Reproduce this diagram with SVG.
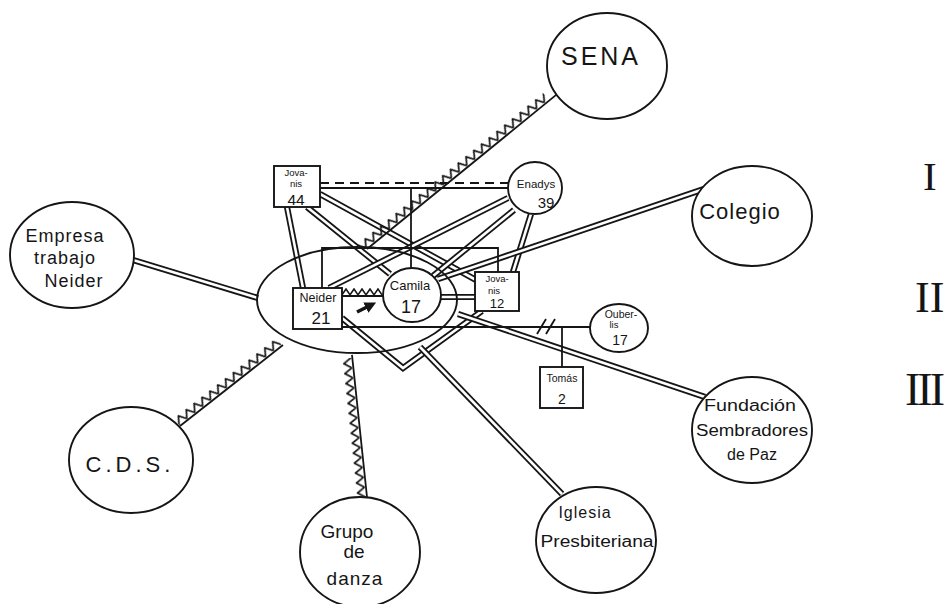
<svg xmlns="http://www.w3.org/2000/svg" width="946" height="604" viewBox="0 0 946 604">
<style>
.ln{stroke:#151515;stroke-width:1.8;fill:none}
.o{stroke:#151515;stroke-width:6.2;fill:none}
.i{stroke:#fff;stroke-width:2.6;fill:none}
.dash{stroke:#151515;stroke-width:1.8;fill:none;stroke-dasharray:9 6}
.nd{fill:#fff;stroke:#151515;stroke-width:1.9}
.t{font-family:"Liberation Sans",Arial,sans-serif;fill:#151515;text-anchor:middle}
.rn{font-family:"Liberation Serif","Times New Roman",serif;fill:#151515}
</style>
<defs>
<pattern id="zig" patternUnits="userSpaceOnUse" width="10" height="10">
<path d="M0,8.6 L5,1 L10,8.6" stroke="#151515" stroke-width="1.7" fill="none"/>
</pattern>
<pattern id="zig2" patternUnits="userSpaceOnUse" width="8" height="8">
<path d="M0,6.8 L4,1 L8,6.8" stroke="#151515" stroke-width="1.6" fill="none"/>
</pattern>
<marker id="arr" viewBox="0 0 10 10" refX="5" refY="5" markerWidth="3.2" markerHeight="3.2" orient="auto">
<path d="M0,0 L10,5 L0,10 z" fill="#151515"/>
</marker>
</defs>
<rect width="946" height="604" fill="#fff"/>

<g id="connectors">
<!-- strong (double) lines -->
<line class="o" x1="133" y1="260" x2="258" y2="298"/><line class="i" x1="133" y1="260" x2="258" y2="298"/>
<line class="o" x1="287" y1="207" x2="303" y2="288"/><line class="i" x1="287" y1="207" x2="303" y2="288"/>
<line class="o" x1="307" y1="207" x2="390" y2="274"/><line class="i" x1="307" y1="207" x2="390" y2="274"/>
<line class="o" x1="320" y1="194" x2="476" y2="280"/><line class="i" x1="320" y1="194" x2="476" y2="280"/>
<line class="o" x1="508" y1="198" x2="329" y2="288"/><line class="i" x1="508" y1="198" x2="329" y2="288"/>
<line class="o" x1="514" y1="210" x2="433" y2="276"/><line class="i" x1="514" y1="210" x2="433" y2="276"/>
<line class="o" x1="531" y1="214" x2="513" y2="272"/><line class="i" x1="531" y1="214" x2="513" y2="272"/>
<line class="o" x1="704" y1="189" x2="438" y2="279"/><line class="i" x1="704" y1="189" x2="438" y2="279"/>
<line class="o" x1="441" y1="297" x2="476" y2="297"/><line class="i" x1="441" y1="297" x2="476" y2="297"/>
<path class="o" d="M342,318 L403,368 L482,311"/><path class="i" d="M342,318 L403,368 L482,311"/>
<line class="o" x1="420" y1="347" x2="562" y2="494"/><line class="i" x1="420" y1="347" x2="562" y2="494"/>
<line class="o" x1="458" y1="314" x2="705" y2="397"/><line class="i" x1="458" y1="314" x2="705" y2="397"/>

<!-- family lines -->
<line class="dash" x1="320" y1="183" x2="508" y2="183"/>
<line class="ln" x1="320" y1="188" x2="508" y2="188"/>
<line class="ln" x1="411" y1="188" x2="411" y2="270"/>
<path class="ln" d="M322,288 L322,248 L498,248 L498,272"/>
<line class="ln" x1="342" y1="327" x2="591" y2="327"/>
<line class="ln" x1="537" y1="334" x2="546" y2="319"/>
<line class="ln" x1="546" y1="334" x2="555" y2="319"/>
<line class="ln" x1="562" y1="327" x2="562" y2="367"/>

<!-- stressful lines -->
<g transform="translate(367,249) rotate(-39.17)">
<line class="ln" x1="0" y1="0" x2="244" y2="0"/>
<rect x="-5" y="-10" width="240" height="10" fill="url(#zig)"/>
</g>
<g transform="translate(180,426) rotate(-38.18)">
<line class="ln" x1="0" y1="0" x2="131" y2="0"/>
<rect x="0" y="-10" width="130" height="10" fill="url(#zig)"/>
</g>
<g transform="translate(367,497) rotate(-96.03)">
<line class="ln" x1="0" y1="0" x2="143" y2="0"/>
<rect x="0" y="-10" width="140" height="10" fill="url(#zig)"/>
</g>
<g transform="translate(342,296)">
<line class="ln" x1="0" y1="0" x2="42" y2="0"/>
<rect x="0" y="-8" width="40" height="8" fill="url(#zig2)"/>
</g>
<line x1="357" y1="312" x2="371" y2="305" stroke="#151515" stroke-width="3.6" marker-end="url(#arr)"/>
</g>

<g id="household">
<ellipse cx="357" cy="300" rx="100" ry="53" fill="none" stroke="#151515" stroke-width="1.9"/>
</g>

<g id="n-sena">
<ellipse class="nd" cx="607" cy="66" rx="60" ry="53"/>
<text class="t" x="601" y="65" font-size="25" letter-spacing="3">SENA</text>
</g>
<g id="n-colegio">
<ellipse class="nd" cx="752" cy="216" rx="60" ry="50"/>
<text class="t" x="740" y="219" font-size="22" letter-spacing="1">Colegio</text>
</g>
<g id="n-empresa">
<ellipse class="nd" cx="72" cy="255" rx="62" ry="53"/>
<text class="t" x="65" y="242" font-size="18" letter-spacing="1">Empresa</text>
<text class="t" x="65" y="264" font-size="18" letter-spacing="1">trabajo</text>
<text class="t" x="74" y="287" font-size="18" letter-spacing="1">Neider</text>
</g>
<g id="n-cds">
<ellipse class="nd" cx="131" cy="460" rx="62" ry="53"/>
<text class="t" x="130" y="472" font-size="22" letter-spacing="4">C.D.S.</text>
</g>
<g id="n-grupo">
<ellipse class="nd" cx="360" cy="552" rx="60" ry="55"/>
<text class="t" x="347" y="538" font-size="19">Grupo</text>
<text class="t" x="354" y="558" font-size="19">de</text>
<text class="t" x="355" y="585" font-size="19" letter-spacing="1">danza</text>
</g>
<g id="n-iglesia">
<ellipse class="nd" cx="596" cy="540" rx="60" ry="53"/>
<text class="t" x="585" y="518" font-size="16" letter-spacing="1">Iglesia</text>
<text class="t" x="597" y="547" font-size="16" textLength="113" lengthAdjust="spacingAndGlyphs">Presbiteriana</text>
</g>
<g id="n-fundacion">
<ellipse class="nd" cx="752" cy="430" rx="60" ry="53"/>
<text class="t" x="750" y="411" font-size="16" textLength="92" lengthAdjust="spacingAndGlyphs">Fundación</text>
<text class="t" x="752" y="436" font-size="16" textLength="112" lengthAdjust="spacingAndGlyphs">Sembradores</text>
<text class="t" x="752" y="460" font-size="16">de Paz</text>
</g>
<g id="n-jovanis44">
<rect class="nd" x="274" y="166" width="46" height="41"/>
<text class="t" x="296" y="175.5" font-size="9.5">Jova-</text>
<text class="t" x="296" y="187" font-size="9.5">nis</text>
<text class="t" x="296" y="205" font-size="15.5">44</text>
</g>
<g id="n-enadys">
<ellipse class="nd" cx="535" cy="188" rx="27" ry="26"/>
<text class="t" x="536" y="188" font-size="11.5">Enadys</text>
<text class="t" x="546" y="208" font-size="15">39</text>
</g>
<g id="n-neider">
<rect class="nd" x="293" y="288" width="49" height="41"/>
<text class="t" x="318" y="302" font-size="12.5">Neider</text>
<text class="t" x="321" y="324" font-size="17">21</text>
</g>
<g id="n-camila">
<ellipse class="nd" cx="412" cy="295" rx="29" ry="27"/>
<text class="t" x="410" y="290" font-size="13">Camila</text>
<text class="t" x="411" y="313" font-size="18">17</text>
</g>
<g id="n-jovanis12">
<rect class="nd" x="475" y="272" width="44" height="39"/>
<text class="t" x="497" y="282" font-size="9.5">Jova-</text>
<text class="t" x="494" y="293.5" font-size="9.5">nis</text>
<text class="t" x="497" y="308" font-size="13">12</text>
</g>
<g id="n-ouberlis">
<ellipse class="nd" cx="619" cy="328" rx="29" ry="24"/>
<text class="t" x="621" y="318" font-size="10.5">Ouber-</text>
<text class="t" x="614" y="328" font-size="9.5">lis</text>
<text class="t" x="620" y="345" font-size="14">17</text>
</g>
<g id="n-tomas">
<rect class="nd" x="540" y="367" width="43" height="41"/>
<text class="t" x="562" y="382" font-size="10.5">Tomás</text>
<text class="t" x="562" y="404" font-size="14">2</text>
</g>

<g id="legend">
<text class="rn" x="923" y="190" font-size="41">I</text>
<text class="rn" x="915" y="312" font-size="44">II</text>
<text class="rn" x="905" y="405" font-size="46" letter-spacing="-3">III</text>
</g>
</svg>
